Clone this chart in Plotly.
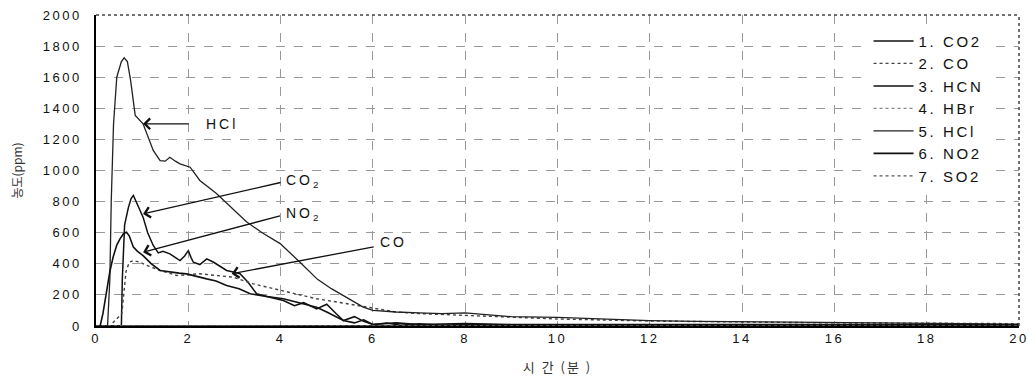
import plotly.graph_objects as go

# ---------------- data ----------------
names = ["1. CO2", "2. CO", "3. HCN", "4. HBr", "5. HCl", "6. NO2", "7. SO2"]

co2_x = [0, 0.55, 0.57, 0.62, 0.7, 0.76, 0.81, 0.87, 0.95, 1.02, 1.12, 1.24, 1.35, 1.45, 1.6, 1.72,
         1.82, 1.92, 2.0, 2.06, 2.11, 2.25, 2.4, 2.55, 2.7, 2.83, 3.0, 3.12, 3.3, 3.48, 3.7, 3.9,
         4.06, 4.3, 4.5, 4.78, 5.0, 5.2, 5.36, 5.6, 5.8, 6.0, 6.3, 6.6, 7, 7.5, 8, 9, 10, 12, 14,
         16, 18, 20]
co2_y = [0, 0, 300, 650, 760, 820, 840, 800, 740, 700, 600, 518, 470, 480, 464, 440,
         421, 450, 485, 440, 410, 395, 432, 410, 380, 357, 345, 336, 280, 207, 190, 175,
         164, 130, 150, 110, 140, 80, 35, 60, 30, 10, 20, 5, 15, 5, 10, 5, 5, 3, 3,
         3, 3, 3]

co_x = [0, 0.3, 0.56, 0.6, 0.65, 0.72, 0.81, 0.95, 1.1, 1.39, 1.75, 2.0, 2.25, 2.6, 2.97, 3.41,
        3.7, 4.06, 4.4, 4.78, 5.1, 5.43, 6.0, 6.5, 7, 8, 9, 10, 12, 14, 16, 18, 20]
co_y = [0, 0, 80, 200, 350, 410, 421, 410, 390, 357, 325, 330, 336, 325, 314, 271,
        250, 228, 200, 175, 160, 143, 112, 90, 80, 67, 55, 45, 32, 25, 20, 18, 15]

hcn_x = [0, 5, 10, 15, 20]
hcn_y = [0, 2, 2, 2, 2]

hbr_x = [0, 5, 10, 15, 20]
hbr_y = [0, 1, 1, 1, 1]

hcl_x = [0, 0.25, 0.3, 0.33, 0.38, 0.45, 0.55, 0.61, 0.68, 0.75, 0.85, 1.02, 1.24, 1.39, 1.5,
         1.6, 1.72, 1.82, 2.04, 2.25, 2.61, 2.69, 3.0, 3.26, 3.6, 3.99, 4.42, 4.8, 5.1, 5.43,
         5.79, 6.0, 6.5, 7, 7.5, 8, 9, 10, 11, 12, 13, 14, 15, 16, 17, 18, 19, 20]
hcl_y = [0, 0, 300, 800, 1300, 1600, 1700, 1725, 1700, 1580, 1354, 1300, 1129, 1064, 1060,
         1085, 1060, 1043, 1021, 936, 852, 829, 740, 670, 600, 530, 410, 300, 240, 185,
         121, 100, 90, 85, 80, 85, 60, 55, 45, 35, 30, 28, 25, 22, 20, 18, 15, 12]

no2_x = [0, 0.09, 0.15, 0.23, 0.3, 0.37, 0.45, 0.52, 0.6, 0.66, 0.72, 0.81, 0.9, 1.02, 1.2,
         1.39, 1.6, 1.8, 1.96, 2.2, 2.4, 2.6, 2.83, 3.1, 3.34, 3.7, 4.06, 4.4, 4.78, 5.0, 5.2,
         5.36, 5.6, 5.8, 6, 6.5, 7, 8, 9, 10, 12, 14, 16, 18, 20]
no2_y = [0, 0, 80, 228, 350, 442, 520, 560, 595, 603, 580, 507, 480, 453, 400,
         357, 346, 340, 335, 320, 303, 290, 260, 240, 207, 190, 175, 150, 121, 90, 60,
         35, 20, 40, 10, 20, 10, 15, 10, 10, 8, 8, 8, 8, 8]

so2_x = [0, 5, 10, 15, 20]
so2_y = [0, 1, 1, 1, 1]

x_ticks = [0, 2, 4, 6, 8, 10, 12, 14, 16, 18, 20]
y_ticks = [0, 200, 400, 600, 800, 1000, 1200, 1400, 1600, 1800, 2000]


def spaced(t, px):
    return '<span style="letter-spacing:%spx">%s</span>' % (px, t)


# ---------------- figure ----------------
series = [
    (names[0], co2_x, co2_y, dict(color="#111", width=1.5, dash="solid")),
    (names[1], co_x, co_y, dict(color="#444", width=1.4, dash="dot")),
    (names[2], hcn_x, hcn_y, dict(color="#111", width=1.5, dash="solid")),
    (names[3], hbr_x, hbr_y, dict(color="#888", width=1.2, dash="dot")),
    (names[4], hcl_x, hcl_y, dict(color="#222", width=1.3, dash="solid")),
    (names[5], no2_x, no2_y, dict(color="#111", width=1.6, dash="solid")),
    (names[6], so2_x, so2_y, dict(color="#555", width=1.3, dash="dot")),
]

fig = go.Figure()
for nm, xs, ys, ln in series:
    fig.add_trace(go.Scatter(x=xs, y=ys, name=spaced(nm, 2.6), mode="lines", line=ln))

font_main = "Liberation Sans, Arial, sans-serif"

fig.update_layout(
    width=1036, height=384,
    margin=dict(l=96, r=17, t=15, b=58),
    paper_bgcolor="white", plot_bgcolor="white",
    font=dict(family=font_main, size=13, color="#111"),
    showlegend=True,
    legend=dict(x=0.837, y=0.969, xanchor="left", yanchor="top",
                bgcolor="white", borderwidth=0, font=dict(size=15, color="#111"),
                tracegroupgap=0, itemwidth=40),
)

fig.update_xaxes(
    range=[0, 20], tickvals=x_ticks, ticktext=[spaced(v, 2.5) for v in x_ticks],
    showgrid=True, gridcolor="#999", griddash="dash", gridwidth=1,
    showline=True, linecolor="black", linewidth=1.5, zeroline=False,
    ticks="", tickfont=dict(size=13, color="#111"), automargin=False,
    title=dict(text=spaced("시 간 (분 )", 2), font=dict(family="Noto Sans CJK KR", size=13, color="#333"),
               standoff=18),
)
fig.update_yaxes(
    range=[0, 2000], tickvals=y_ticks, ticktext=[spaced(v, 2.5) for v in y_ticks],
    showgrid=True, gridcolor="#999", griddash="dash", gridwidth=1,
    showline=True, linecolor="black", linewidth=1.5, zeroline=False,
    ticks="", ticklabelstandoff=10, tickfont=dict(size=13, color="#111"), automargin=False,
    title=dict(text="농도(ppm)", font=dict(family="Noto Sans CJK KR", size=12, color="#333"), standoff=18),
)

# dotted top and right frame
fig.add_shape(type="line", xref="x domain", yref="y domain", x0=0, x1=1, y0=1, y1=1,
              line=dict(color="#444", width=1.5, dash="dot"))
fig.add_shape(type="line", xref="x domain", yref="y domain", x0=1, x1=1, y0=0, y1=1,
              line=dict(color="#444", width=1.5, dash="dot"))

# arrows (tail -> head) and labels
arrows = [
    # (head_x, head_y, tail_x, tail_y, label, label_x, label_y)
    (1.02, 1300, 2.04, 1300, "HCl", 2.35, 1300),
    (1.02, 721, 4.03, 925, "CO<sub>2</sub>", 4.08, 935),
    (1.02, 475, 4.02, 711, "NO<sub>2</sub>", 4.08, 721),
    (2.94, 336, 6.05, 511, "CO", 6.12, 540),
]
for hx, hy, tx, ty, lab, lx, ly in arrows:
    fig.add_annotation(x=hx, y=hy, ax=tx, ay=ty, xref="x", yref="y", axref="x", ayref="y",
                       text="", showarrow=True, arrowhead=4, arrowsize=1.6, arrowwidth=1.3,
                       arrowcolor="#111")
    fig.add_annotation(x=lx, y=ly, xref="x", yref="y", text=spaced(lab, 3), showarrow=False,
                       xanchor="left", yanchor="middle",
                       font=dict(family=font_main, size=14, color="#111"))

fig.write_html("out.html", config={"displayModeBar": False},
               post_script="document.body.style.margin='0';document.body.style.overflow='hidden';")
